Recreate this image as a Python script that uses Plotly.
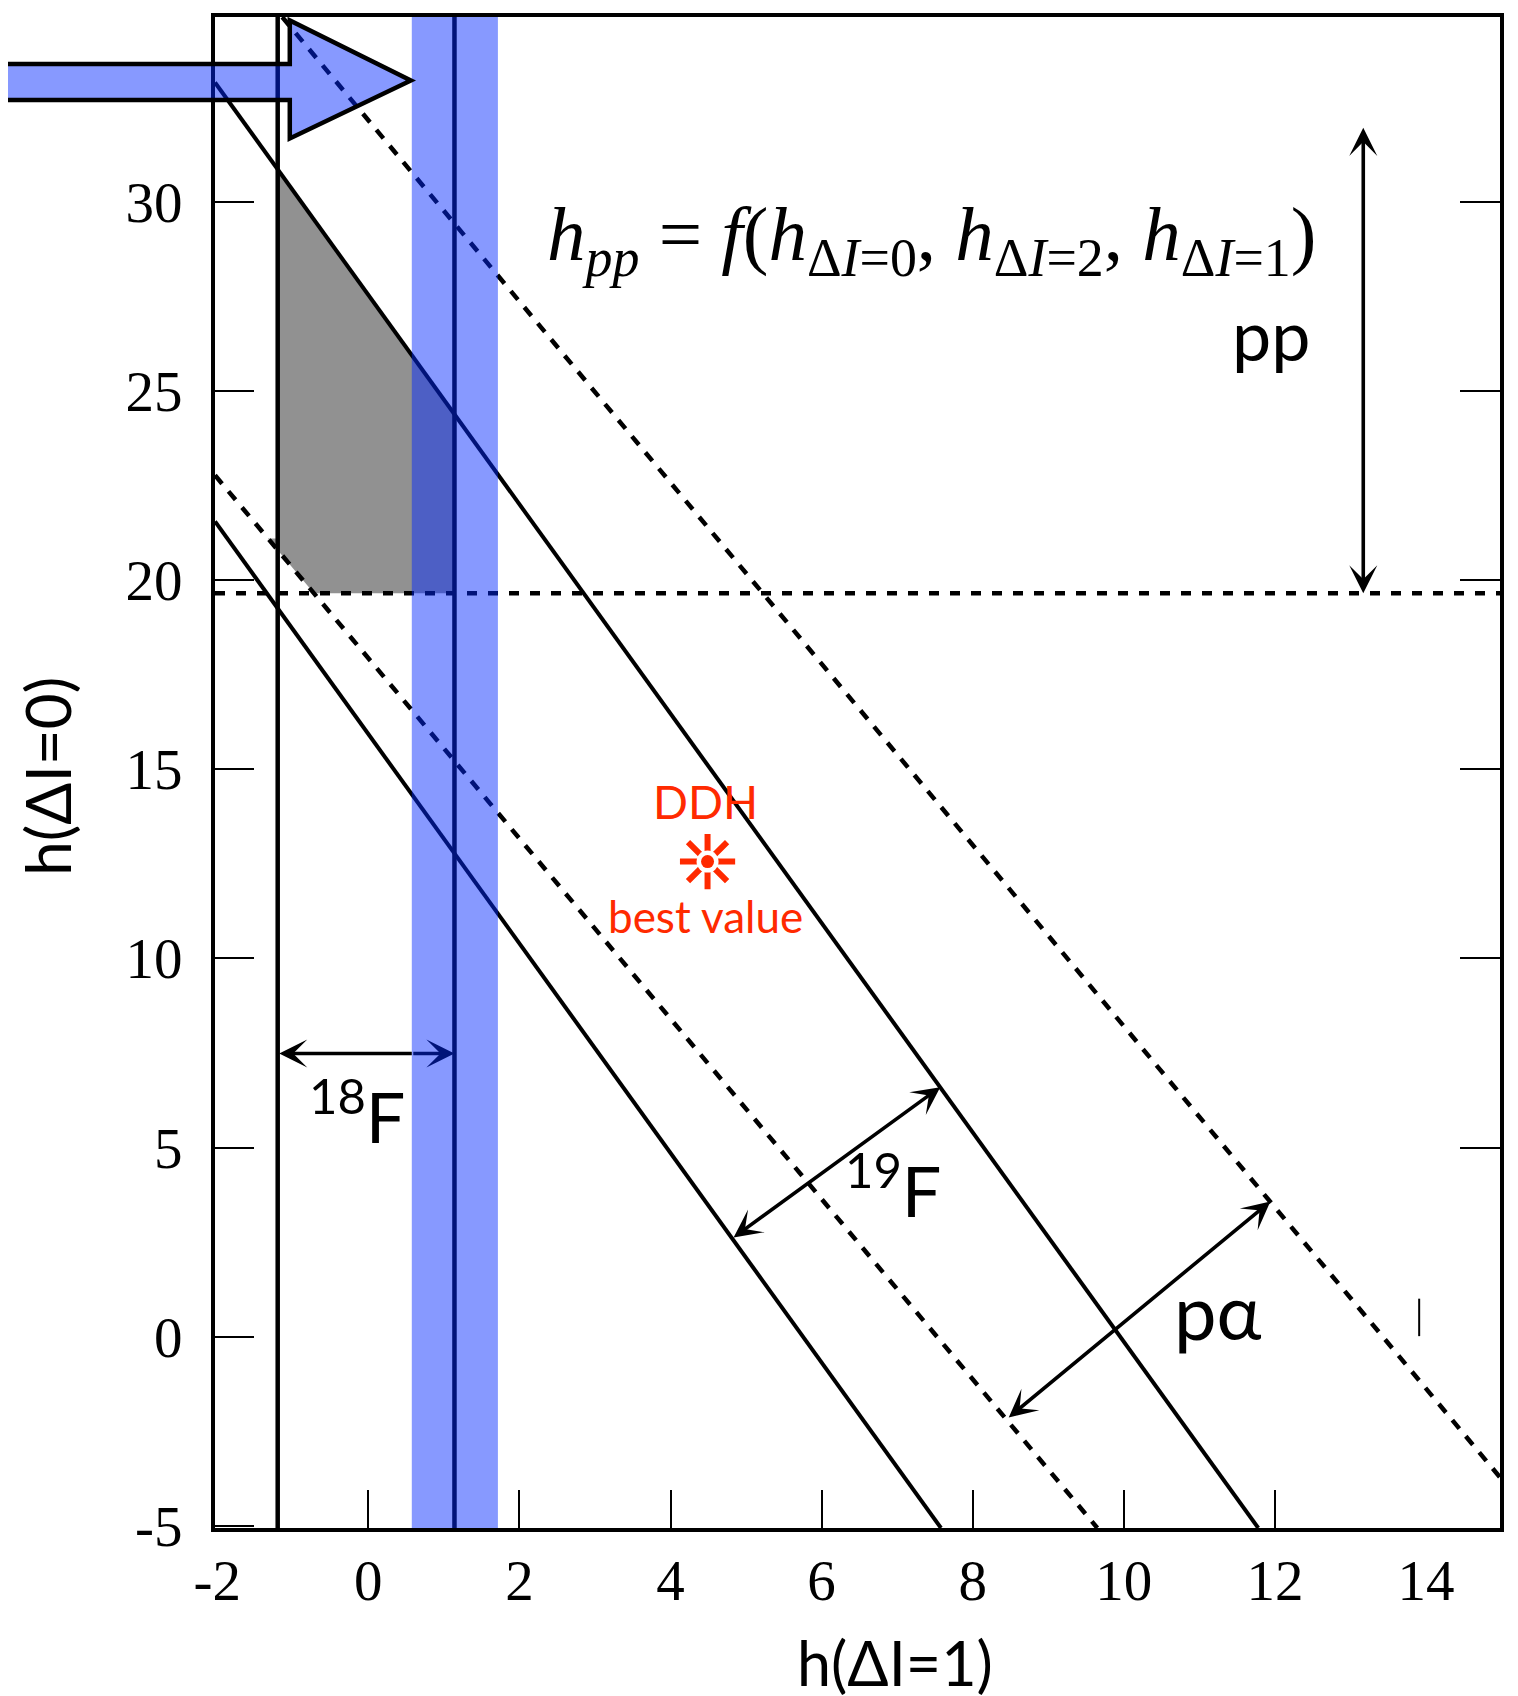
import plotly.graph_objects as go

# ---------------- data ----------------
X_RANGE = [-2.03, 14.98]
Y_RANGE = [-5.05, 34.88]

X_TICK_VALS = [-2, 0, 2, 4, 6, 8, 10, 12, 14]
X_TICK_TEXT = ["-2", "0", "2", "4", "6", "8", "10", "12", "14"]
X_MARK_VALS = [0, 2, 4, 6, 8, 10, 12]
Y_TICK_VALS = [-5, 0, 5, 10, 15, 20, 25, 30]
Y_TICK_TEXT = ["-5", "0", "5", "10", "15", "20", "25", "30"]
Y_MARK_RIGHT = [5, 10, 15, 20, 25, 30]

# 19F band (solid lines)
F19_UPPER_X = [-2.03, 11.78]
F19_UPPER_Y = [33.15, -5.05]
F19_LOWER_X = [-2.03, 7.58]
F19_LOWER_Y = [21.55, -5.05]
# p-alpha band (dashed lines)
PA_UPPER_X = [-1.14, 14.98]
PA_UPPER_Y = [34.88, -3.71]
PA_LOWER_X = [-2.03, 9.65]
PA_LOWER_Y = [22.77, -5.05]
# pp lower limit (dashed horizontal)
PP_LIMIT_X = [-2.03, 14.98]
PP_LIMIT_Y = [19.65, 19.65]
# 18F limits
F18_LEFT_X = [-1.2, -1.2]
F18_RIGHT_X = [1.14, 1.14]
F18_LINE_Y = [-5.05, 34.88]
F18_BAND = [0.575, 1.715]

# allowed (grey) region
ALLOWED_X = [-1.2, 1.14, 1.14, -0.72, -1.33, -1.2]
ALLOWED_Y = [30.85, 24.38, 19.65, 19.65, 21.10, 21.10]

# big incoming arrow outline (data units)
BIG_ARROW_X = [-5.6, -1.04, -1.04, 0.563, -1.04, -1.04, -5.6]
BIG_ARROW_Y = [33.64, 33.64, 34.79, 33.20, 31.67, 32.69, 32.69]

# DDH best value
DDH_X = [4.49]
DDH_Y = [12.56]

# double arrows: (x_start, y_start, x_end, y_end)
PP_ARROW = (13.17, 31.99, 13.17, 19.65)
F19_ARROW = (4.815, 2.60, 7.57, 6.60)
PA_ARROW = (8.457, -2.16, 11.94, 3.58)
F18_ARROW = (-1.2, 7.49, 1.14, 7.49)

# stray tick mark near right edge
STRAY_X = [13.91, 13.91]
STRAY_Y = [0.02, 1.01]

BLUE = "rgba(3,41,255,0.476)"
NAVY = "rgb(1,20,121)"
GREY = "#919191"
RED = "#FF2A00"
SANS = "Lato, 'Open Sans', sans-serif"
SERIF = "'Liberation Serif', 'DejaVu Serif', serif"

# the page body adds an 8 px offset; compensate in the margins
OFF = 8


def px(v):
    return (v - X_RANGE[0]) / (X_RANGE[1] - X_RANGE[0])


def py(v):
    return (v - Y_RANGE[0]) / (Y_RANGE[1] - Y_RANGE[0])


fig = go.Figure()

# grey allowed region
fig.add_trace(go.Scatter(x=ALLOWED_X, y=ALLOWED_Y, fill="toself", fillcolor=GREY,
                         mode="lines", line=dict(width=0), hoverinfo="skip", showlegend=False))

solid = dict(color="black", width=4)
dashed = dict(color="black", width=4.5, dash="11px,10px")
for xs, ys, ln in [
    (F19_UPPER_X, F19_UPPER_Y, solid),
    (F19_LOWER_X, F19_LOWER_Y, solid),
    (PA_UPPER_X, PA_UPPER_Y, dashed),
    (PA_LOWER_X, PA_LOWER_Y, dashed),
    (PP_LIMIT_X, PP_LIMIT_Y, dict(color="black", width=4.5, dash="10px,11px")),
    (F18_LEFT_X, F18_LINE_Y, dict(color="black", width=4.5)),
    (F18_RIGHT_X, F18_LINE_Y, dict(color="black", width=4.5)),
    (STRAY_X, STRAY_Y, dict(color="black", width=2)),
]:
    fig.add_trace(go.Scatter(x=xs, y=ys, mode="lines", line=ln, hoverinfo="skip",
                             showlegend=False))

# DDH star: asterisk with gap and central dot
fig.add_trace(go.Scatter(x=DDH_X, y=DDH_Y, mode="markers", showlegend=False, hoverinfo="skip",
                         marker=dict(symbol="asterisk-open", size=46, color=RED,
                                     line=dict(color=RED, width=6))))
fig.add_trace(go.Scatter(x=DDH_X, y=DDH_Y, mode="markers", showlegend=False, hoverinfo="skip",
                         marker=dict(symbol="circle", size=22, color="white", line=dict(width=0))))
fig.add_trace(go.Scatter(x=DDH_X, y=DDH_Y, mode="markers", showlegend=False, hoverinfo="skip",
                         marker=dict(symbol="circle", size=13, color=RED, line=dict(width=0))))

# dummy traces so the overlay tick axes are drawn
fig.add_trace(go.Scatter(x=[None], y=[None], xaxis="x2", yaxis="y", showlegend=False, hoverinfo="skip"))
fig.add_trace(go.Scatter(x=[None], y=[None], xaxis="x", yaxis="y2", showlegend=False, hoverinfo="skip"))

# blue 18F band (translucent, above lines)
fig.add_shape(type="rect", xref="x", yref="paper", x0=F18_BAND[0], x1=F18_BAND[1], y0=0, y1=1,
              fillcolor=BLUE, line=dict(width=0), layer="above")

# big arrow (paper coordinates so it may leave the plot area)
path = "M" + " L".join(f"{px(a):.5f},{py(b):.5f}" for a, b in zip(BIG_ARROW_X, BIG_ARROW_Y)) + " Z"
fig.add_shape(type="path", xref="paper", yref="paper", path=path, fillcolor=BLUE,
              line=dict(color="black", width=4.5), layer="above")


# double-headed arrows
def double_arrow(a, color="black", side="end+start"):
    x0, y0, x1, y1 = a
    fig.add_annotation(x=x1, y=y1, ax=x0, ay=y0, xref="x", yref="y", axref="x", ayref="y",
                       text="", showarrow=True, arrowside=side, arrowhead=3, startarrowhead=3,
                       arrowsize=1.3, startarrowsize=1.3, arrowwidth=3.6, arrowcolor=color)


double_arrow(PP_ARROW)
double_arrow(F19_ARROW)
double_arrow(PA_ARROW)
# 18F arrow: black outside the band, navy (seen through the band) inside it
double_arrow((F18_ARROW[0], F18_ARROW[1], F18_BAND[0], F18_ARROW[3]), side="start")
double_arrow((F18_BAND[0], F18_ARROW[1], F18_ARROW[2], F18_ARROW[3]), color=NAVY, side="end")


# labels
def label(x, y, text, size, color="black", family=SANS):
    fig.add_annotation(x=x, y=y, xref="x", yref="y", text=text, showarrow=False,
                       font=dict(family=family, size=size, color=color),
                       xanchor="center", yanchor="middle")


label(11.95, 26.5, "pp", 70)
label(11.25, 0.7, "pα", 76)
label(6.95, 4.0, "<sup>19</sup>F", 70)
label(-0.15, 5.95, "<sup>18</sup>F", 70)
label(4.46, 14.15, "DDH", 46, RED)
label(4.46, 11.12, "best value", 44, RED)
label(7.45, 29.0,
      "<i>h</i><sub><i>pp</i></sub> = <i>f</i>(<i>h</i><sub>Δ<i>I</i>=0</sub>, "
      "<i>h</i><sub>Δ<i>I</i>=2</sub>, <i>h</i><sub>Δ<i>I</i>=1</sub>)",
      77, family=SERIF)

# axis titles
fig.add_annotation(x=0.529, y=-0.089, xref="paper", yref="paper", text="h(ΔI=1)",
                   showarrow=False, font=dict(family=SANS, size=61, color="black"),
                   xanchor="center", yanchor="middle")
fig.add_annotation(x=-0.131, y=0.4976, xref="paper", yref="paper", text="h(ΔI=0)",
                   showarrow=False, textangle=-90, font=dict(family=SANS, size=62, color="black"),
                   xanchor="center", yanchor="middle")

tickfont = dict(family=SERIF, size=57, color="black")
fig.update_layout(
    width=1518, height=1696,
    margin=dict(l=215 - OFF, r=18 + OFF, t=13 - OFF, b=168 + OFF),
    paper_bgcolor="white", plot_bgcolor="white",
    showlegend=False,
    xaxis=dict(range=X_RANGE, tickmode="array", tickvals=X_TICK_VALS, ticktext=X_TICK_TEXT,
               ticks="", showgrid=False, zeroline=False, showline=True, mirror=True,
               linecolor="black", linewidth=4, tickfont=tickfont, ticklabelstandoff=0),
    xaxis2=dict(range=X_RANGE, overlaying="x", anchor="y", side="bottom", tickmode="array",
                tickvals=X_MARK_VALS, ticks="inside", ticklen=38, tickwidth=2, tickcolor="black",
                showticklabels=False, showgrid=False, zeroline=False, showline=False),
    yaxis=dict(range=Y_RANGE, tickmode="array", tickvals=Y_TICK_VALS, ticktext=Y_TICK_TEXT,
               ticks="inside", ticklen=39, tickwidth=2, tickcolor="black",
               showgrid=False, zeroline=False, showline=True, mirror=True,
               linecolor="black", linewidth=4, tickfont=tickfont, ticklabelstandoff=17),
    yaxis2=dict(range=Y_RANGE, overlaying="y", anchor="x", side="right", tickmode="array",
                tickvals=Y_MARK_RIGHT, ticks="inside", ticklen=40, tickwidth=2, tickcolor="black",
                showticklabels=False, showgrid=False, zeroline=False, showline=False),
)

fig.write_html("out.html")
